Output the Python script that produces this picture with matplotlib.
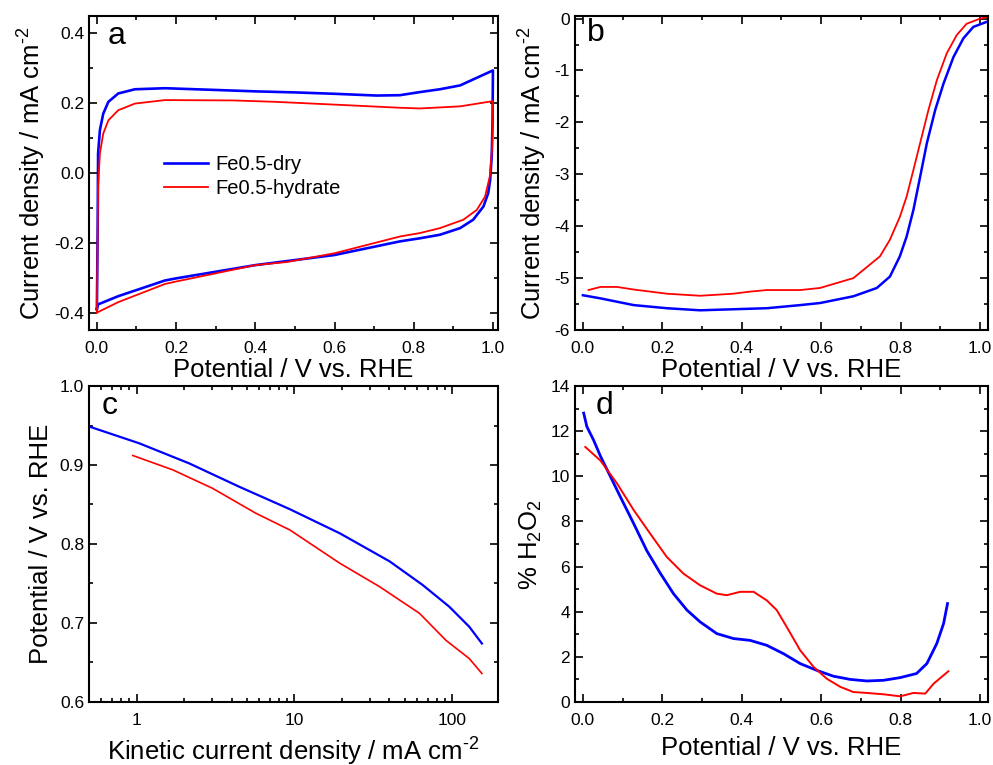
import numpy as np
import matplotlib
matplotlib.use('Agg')
import matplotlib.pyplot as plt
from matplotlib.ticker import MultipleLocator, LogLocator, NullFormatter

plt.rcParams['font.family'] = ['Liberation Sans', 'DejaVu Sans']
plt.rcParams['mathtext.fontset'] = 'custom'
plt.rcParams['mathtext.rm'] = 'Liberation Sans'

# ---- panel a: cyclic voltammograms ----
cv_dry_x = [0.0, 0.002, 0.003, 0.0076, 0.016, 0.029, 0.054, 0.096, 0.172, 0.3, 0.4, 0.5,
            0.6, 0.706, 0.765, 0.816, 0.866, 0.917, 1.0,
            0.999, 0.997, 0.993, 0.988, 0.976, 0.95, 0.917, 0.866, 0.816, 0.765, 0.6, 0.4, 0.2, 0.172, 0.054, 0.002, 0.0]
cv_dry_y = [-0.39, -0.15, 0.056, 0.123, 0.17, 0.204, 0.228, 0.24, 0.243, 0.238, 0.234, 0.231,
            0.227, 0.222, 0.223, 0.232, 0.24, 0.251, 0.294,
            0.15, 0.05, -0.02, -0.058, -0.096, -0.134, -0.158, -0.177, -0.187, -0.196, -0.235, -0.264, -0.302, -0.308, -0.353, -0.377, -0.39]

cv_hyd_x = [0.0, 0.003, 0.0076, 0.016, 0.029, 0.054, 0.096, 0.172, 0.344, 0.45,
            0.6, 0.765, 0.816, 0.917, 1.0,
            0.998, 0.992, 0.98, 0.959, 0.925, 0.866, 0.816, 0.765, 0.6, 0.48, 0.4, 0.2, 0.172, 0.054, 0.002, 0.0]
cv_hyd_y = [-0.40, -0.039, 0.056, 0.113, 0.151, 0.18, 0.199, 0.209, 0.208, 0.204,
            0.196, 0.187, 0.185, 0.191, 0.206,
            0.075, -0.01, -0.068, -0.106, -0.134, -0.158, -0.172, -0.182, -0.23, -0.255, -0.264, -0.311, -0.318, -0.37, -0.399, -0.40]

# ---- panel b: ORR polarisation curves ----
lsv_dry_x = [0.0, 0.044, 0.128, 0.211, 0.295, 0.379, 0.463, 0.547, 0.597, 0.681, 0.74, 0.773,
             0.798, 0.815, 0.832, 0.849, 0.866, 0.887, 0.908, 0.933, 0.958, 0.983, 1.016]
lsv_dry_y = [-5.33, -5.39, -5.52, -5.58, -5.62, -5.6, -5.58, -5.52, -5.48, -5.35, -5.19, -4.97,
             -4.58, -4.2, -3.69, -3.05, -2.40, -1.76, -1.25, -0.74, -0.38, -0.16, -0.065]

lsv_hyd_x = [0.014, 0.044, 0.086, 0.128, 0.211, 0.295, 0.379, 0.421, 0.463, 0.547, 0.597, 0.681,
             0.748, 0.773, 0.798, 0.815, 0.832, 0.849, 0.87, 0.891, 0.916, 0.941, 0.966, 1.0, 1.02]
lsv_hyd_y = [-5.23, -5.17, -5.17, -5.22, -5.3, -5.34, -5.3, -5.26, -5.23, -5.23, -5.19, -5.0,
             -4.58, -4.26, -3.82, -3.43, -2.92, -2.4, -1.76, -1.19, -0.67, -0.32, -0.1, 0.0, 0.03]

# ---- panel c: Tafel plots ----
tafel_dry_j = [0.505, 1.04, 2.16, 4.47, 9.37, 19.4, 40.1, 65, 95.7, 128, 154]
tafel_dry_e = [0.9485, 0.9275, 0.902, 0.8725, 0.844, 0.8135, 0.778, 0.748, 0.7206, 0.6953, 0.674]

tafel_hyd_j = [0.948, 1.69, 3.03, 5.69, 9.37, 19.4, 34.6, 61.9, 91.2, 128, 154]
tafel_hyd_e = [0.912, 0.894, 0.8705, 0.839, 0.8177, 0.7756, 0.746, 0.7123, 0.678, 0.655, 0.636]

# ---- panel d: peroxide yield ----
h2o2_dry_x = [0.002, 0.01, 0.027, 0.044, 0.069, 0.094, 0.128, 0.161, 0.195, 0.228, 0.262, 0.295, 0.337,
              0.379, 0.421, 0.463, 0.505, 0.547, 0.589, 0.631, 0.673, 0.715, 0.757, 0.799, 0.84, 0.866,
              0.891, 0.908, 0.918]
h2o2_dry_y = [12.8, 12.2, 11.6, 10.9, 10.0, 9.1, 7.9, 6.7, 5.7, 4.8, 4.07, 3.55, 3.03,
              2.81, 2.73, 2.51, 2.14, 1.7, 1.4, 1.14, 1.0, 0.93, 0.96, 1.08, 1.26, 1.7,
              2.59, 3.47, 4.36]

h2o2_hyd_x = [0.006, 0.044, 0.086, 0.128, 0.169, 0.211, 0.253, 0.295, 0.337, 0.362, 0.396, 0.43, 0.463,
              0.488, 0.513, 0.547, 0.581, 0.614, 0.648, 0.681, 0.715, 0.757, 0.799, 0.832, 0.862, 0.883, 0.92]
h2o2_hyd_y = [11.3, 10.7, 9.68, 8.5, 7.47, 6.43, 5.69, 5.17, 4.8, 4.73, 4.88, 4.88, 4.5,
              4.07, 3.33, 2.29, 1.55, 1.03, 0.67, 0.44, 0.4, 0.34, 0.25, 0.4, 0.37, 0.81, 1.36]

labels = ['Fe0.5-dry', 'Fe0.5-hydrate']
blue = '#0000ff'
red = '#ff0000'

fig = plt.figure(figsize=(9.93, 7.65), dpi=100)
ax_a = fig.add_axes([0.0896, 0.5686, 0.412, 0.4105])
ax_b = fig.add_axes([0.579, 0.5686, 0.416, 0.4105])
ax_c = fig.add_axes([0.0896, 0.0824, 0.412, 0.413])
ax_d = fig.add_axes([0.579, 0.0824, 0.416, 0.413])

lab_fs = 18.5
tick_fs = 12.5
unit = 'mA cm$^{\\text{-2}}$'


def style(ax):
    for s in ax.spines.values():
        s.set_linewidth(1.5)
    ax.tick_params(which='both', direction='in', top=True, right=True, labelsize=tick_fs, width=1.2)
    ax.tick_params(which='major', length=6)
    ax.tick_params(which='minor', length=3)
    ax.tick_params(axis='x', pad=8)


# a
ax_a.plot(cv_dry_x, cv_dry_y, color=blue, lw=1.9, label=labels[0])
ax_a.plot(cv_hyd_x, cv_hyd_y, color=red, lw=1.3, label=labels[1])
ax_a.set_xlim(-0.02, 1.013)
ax_a.set_ylim(-0.45, 0.45)
ax_a.xaxis.set_major_locator(MultipleLocator(0.2))
ax_a.xaxis.set_minor_locator(MultipleLocator(0.1))
ax_a.yaxis.set_major_locator(MultipleLocator(0.2))
ax_a.yaxis.set_minor_locator(MultipleLocator(0.1))
ax_a.xaxis.set_major_formatter(plt.FuncFormatter(lambda v, p: f'{v:.1f}'))
ax_a.yaxis.set_major_formatter(plt.FuncFormatter(lambda v, p: f'{v:.1f}'))
style(ax_a)
ax_a.set_xlabel('Potential / V vs. RHE', fontsize=lab_fs, labelpad=1)
ax_a.set_ylabel('Current density / ' + unit, fontsize=lab_fs, labelpad=5)
ax_a.legend(loc='upper left', bbox_to_anchor=(0.138, 0.616), frameon=False, fontsize=14.5,
            handlelength=2.2, labelspacing=0.25, handletextpad=0.35)
ax_a.text(0.045, 0.985, 'a', transform=ax_a.transAxes, fontsize=23, va='top', ha='left')

# b
ax_b.plot(lsv_dry_x, lsv_dry_y, color=blue, lw=1.8)
ax_b.plot(lsv_hyd_x, lsv_hyd_y, color=red, lw=1.3)
ax_b.set_xlim(-0.02, 1.02)
ax_b.set_ylim(-6, 0.05)
ax_b.xaxis.set_major_locator(MultipleLocator(0.2))
ax_b.xaxis.set_minor_locator(MultipleLocator(0.1))
ax_b.yaxis.set_major_locator(MultipleLocator(1))
ax_b.yaxis.set_minor_locator(MultipleLocator(0.5))
ax_b.xaxis.set_major_formatter(plt.FuncFormatter(lambda v, p: f'{v:.1f}'))
ax_b.yaxis.set_major_formatter(plt.FuncFormatter(lambda v, p: f'{v:.0f}'))
style(ax_b)
ax_b.set_xlabel('Potential / V vs. RHE', fontsize=lab_fs, labelpad=1)
ax_b.set_ylabel('Current density / ' + unit, fontsize=lab_fs, labelpad=5)
ax_b.text(0.03, 0.995, 'b', transform=ax_b.transAxes, fontsize=23, va='top', ha='left')

# c
ax_c.plot(tafel_dry_j, tafel_dry_e, color=blue, lw=1.6)
ax_c.plot(tafel_hyd_j, tafel_hyd_e, color=red, lw=1.2)
ax_c.set_xscale('log')
ax_c.set_xlim(0.5, 195)
ax_c.set_ylim(0.6, 1.0)
ax_c.xaxis.set_minor_locator(LogLocator(base=10, subs=np.arange(2, 10)))
ax_c.xaxis.set_minor_formatter(NullFormatter())
ax_c.xaxis.set_major_formatter(plt.FuncFormatter(lambda v, p: f'{v:g}'))
ax_c.yaxis.set_major_locator(MultipleLocator(0.1))
ax_c.yaxis.set_minor_locator(MultipleLocator(0.05))
ax_c.yaxis.set_major_formatter(plt.FuncFormatter(lambda v, p: f'{v:.1f}'))
style(ax_c)
ax_c.set_xlabel('Kinetic current density / ' + unit, fontsize=lab_fs, labelpad=4)
ax_c.set_ylabel('Potential / V vs. RHE', fontsize=lab_fs, labelpad=5)
ax_c.text(0.03, 0.985, 'c', transform=ax_c.transAxes, fontsize=23, va='top', ha='left')

# d
ax_d.plot(h2o2_dry_x, h2o2_dry_y, color=blue, lw=2.0)
ax_d.plot(h2o2_hyd_x, h2o2_hyd_y, color=red, lw=1.4)
ax_d.set_xlim(-0.02, 1.02)
ax_d.set_ylim(0, 14)
ax_d.xaxis.set_major_locator(MultipleLocator(0.2))
ax_d.xaxis.set_minor_locator(MultipleLocator(0.1))
ax_d.yaxis.set_major_locator(MultipleLocator(2))
ax_d.yaxis.set_minor_locator(MultipleLocator(1))
ax_d.xaxis.set_major_formatter(plt.FuncFormatter(lambda v, p: f'{v:.1f}'))
style(ax_d)
ax_d.set_xlabel('Potential / V vs. RHE', fontsize=lab_fs, labelpad=6)
ax_d.set_ylabel('% H$_2$O$_2$', fontsize=lab_fs, labelpad=5)
ax_d.text(0.05, 0.985, 'd', transform=ax_d.transAxes, fontsize=23, va='top', ha='left')

fig.savefig('out.png', dpi=100)
